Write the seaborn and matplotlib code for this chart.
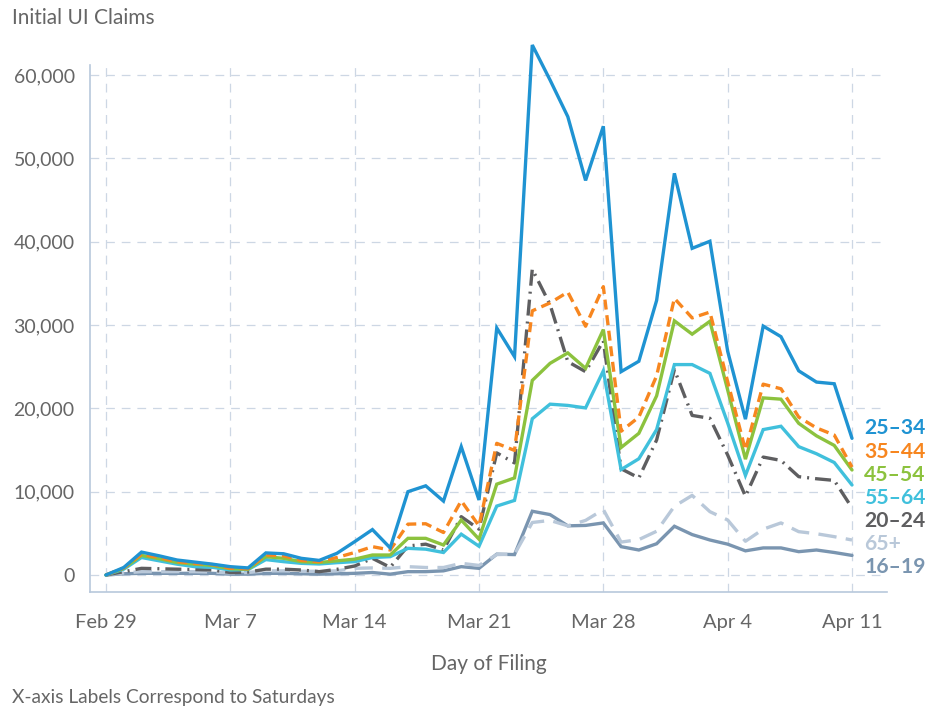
import numpy as np
import pandas as pd
import matplotlib
matplotlib.use("Agg")
import matplotlib.pyplot as plt
import matplotlib.transforms as mtransforms
import seaborn as sns

# ---------------- data ----------------
start_date = "2020-02-29"
n_days = 43
tick_labels = ["Feb 29", "Mar 7", "Mar 14", "Mar 21", "Mar 28", "Apr 4", "Apr 11"]

groups = ["16–19", "65+", "20–24", "55–64", "45–54", "35–44", "25–34"]

age_25_34 = [0, 900, 2750, 2300, 1800, 1550, 1300, 1000, 850, 2650, 2550, 2000, 1750, 2600,
             4000, 5450, 3250, 10000, 10700, 8870, 15400, 9000, 29650, 26200, 63600, 59400,
             55000, 47350, 53850, 24400, 25650, 32950, 48200, 39200, 40050, 26850, 18700,
             29870, 28600, 24500, 23150, 22950, 16400]
age_35_44 = [0, 850, 2500, 2100, 1600, 1400, 1250, 800, 750, 2400, 2300, 1750, 1600, 2100,
             2700, 3400, 3000, 6100, 6150, 5100, 8900, 5900, 15800, 14950, 31700, 32650,
             33950, 29850, 34600, 17250, 18950, 23900, 33200, 30850, 31550, 23200, 15000,
             22900, 22350, 18950, 17650, 16800, 12950]
age_45_54 = [0, 800, 2350, 1950, 1500, 1300, 1150, 750, 700, 2200, 2000, 1600, 1500, 1700,
             1900, 2400, 2400, 4400, 4400, 3600, 6600, 4300, 10900, 11650, 23350, 25400,
             26650, 24800, 29450, 15300, 17000, 21500, 30500, 28900, 30450, 22200, 13900,
             21250, 21100, 18200, 16700, 15550, 12600]
age_55_64 = [0, 700, 2100, 1700, 1300, 1000, 920, 600, 650, 1850, 1600, 1400, 1320, 1480,
             1600, 2100, 2200, 3200, 3100, 2700, 4900, 3450, 8270, 8950, 18750, 20500,
             20350, 20050, 24500, 12650, 13950, 17450, 25250, 25250, 24200, 18250, 11950,
             17450, 17850, 15400, 14550, 13500, 10800]
age_20_24 = [0, 400, 800, 750, 700, 650, 600, 300, 350, 700, 700, 600, 400, 680,
             1080, 2000, 920, 3480, 3700, 3000, 7000, 5500, 14650, 13450, 36700, 32450,
             25600, 24400, 28100, 12750, 11650, 16200, 24650, 19150, 18800, 14400, 9450,
             14150, 13750, 11800, 11550, 11350, 8050]
age_65_plus = [0, 250, 400, 400, 400, 400, 350, 250, 300, 500, 500, 450, 450, 500,
               800, 850, 800, 1000, 900, 900, 1400, 1150, 2450, 2500, 6300, 6550,
               5900, 6550, 7850, 3950, 4250, 5250, 8250, 9550, 7600, 6600, 4050,
               5500, 6250, 5200, 4950, 4600, 4200]
age_16_19 = [0, 150, 200, 200, 200, 200, 200, 100, 100, 200, 200, 150, 100, 150,
             200, 300, 100, 400, 400, 500, 1000, 800, 2500, 2450, 7650, 7250,
             5900, 5950, 6250, 3400, 3000, 3750, 5850, 4850, 4200, 3700, 2900,
             3250, 3250, 2800, 3000, 2700, 2350]

series = {
    "16–19": age_16_19,
    "65+": age_65_plus,
    "20–24": age_20_24,
    "55–64": age_55_64,
    "45–54": age_45_54,
    "35–44": age_35_44,
    "25–34": age_25_34,
}
label_order = ["25–34", "35–44", "45–54", "55–64", "20–24", "65+", "16–19"]

# ---------------- styles ----------------
palette = {
    "25–34": "#1f93d2",
    "35–44": "#f7861f",
    "45–54": "#8cc23e",
    "55–64": "#40c0dc",
    "20–24": "#5e5e60",
    "65+": "#b9c8d9",
    "16–19": "#7a95b0",
}
dashes = {
    "25–34": "",
    "35–44": (3.0, 1.7),
    "45–54": "",
    "55–64": "",
    "20–24": (4.8, 1.8, 0.6, 1.8),
    "65+": (5.5, 2.8),
    "16–19": "",
}

dates = pd.date_range(start_date, periods=n_days)
df = pd.concat(
    [pd.DataFrame({"date": dates, "claims": vals, "group": g}) for g, vals in series.items()],
    ignore_index=True,
)

sns.set_theme(style="white")
plt.rcParams["font.family"] = ["Lato", "DejaVu Sans"]

text_color = "#666666"
axis_color = "#b8c8dc"
grid_color = "#cdd7e4"

fig = plt.figure(figsize=(9.3, 7.15), dpi=100)
ax = fig.add_axes([90 / 930, 1 - 592 / 715, 797 / 930, 527 / 715])

sns.lineplot(
    data=df, x="date", y="claims", hue="group", style="group",
    hue_order=groups, style_order=groups,
    palette=palette, dashes=dashes, linewidth=2.4, legend=False, ax=ax,
)
for line in ax.lines:
    line.set_clip_on(False)
    line.set_solid_joinstyle("miter")

day = pd.Timedelta(days=1)
ax.set_xlim(dates[0] - 0.9 * day, dates[-1] + 1.97 * day)
ax.set_ylim(-2040, 61200)

ax.set_xticks(dates[::7])
ax.set_xticklabels(tick_labels)
ax.set_yticks([0, 10000, 20000, 30000, 40000, 50000, 60000])
ax.yaxis.set_major_formatter(matplotlib.ticker.FuncFormatter(lambda v, p: f"{int(v):,}"))

ax.grid(True, color=grid_color, linestyle=(0, (7, 5.5)), linewidth=0.9)
ax.set_axisbelow(True)

for side in ["top", "right"]:
    ax.spines[side].set_visible(False)
for side in ["left", "bottom"]:
    ax.spines[side].set_color(axis_color)
    ax.spines[side].set_linewidth(1.2)

ax.tick_params(axis="both", colors=axis_color, labelcolor=text_color,
               length=8, width=1.0, direction="out")
ax.tick_params(axis="x", pad=8, labelsize=14.5)
ax.tick_params(axis="y", pad=3, labelsize=14)

ax.set_xlabel("Day of Filing", fontsize=15, color=text_color)
ax.xaxis.set_label_coords(0.5, -0.118)
ax.set_ylabel("")

# right-hand labels
trans = mtransforms.blended_transform_factory(ax.transAxes, ax.transData)
label_y = {"25–34": 17640, "35–44": 14760, "45–54": 12000, "55–64": 9240,
           "20–24": 6480, "65+": 3720, "16–19": 960}
for g in label_order:
    ax.text(0.9715, label_y[g], g, transform=trans, color=palette[g], fontsize=15.2,
            fontweight="bold", ha="left", va="center", clip_on=False)

fig.text(12 / 930, 1 - 18 / 715, "Initial UI Claims", fontsize=15, color=text_color,
         ha="left", va="center")
fig.text(12 / 930, 1 - 698 / 715, "X-axis Labels Correspond to Saturdays", fontsize=13.8,
         color=text_color, ha="left", va="center")

fig.savefig("out.png", dpi=100)
